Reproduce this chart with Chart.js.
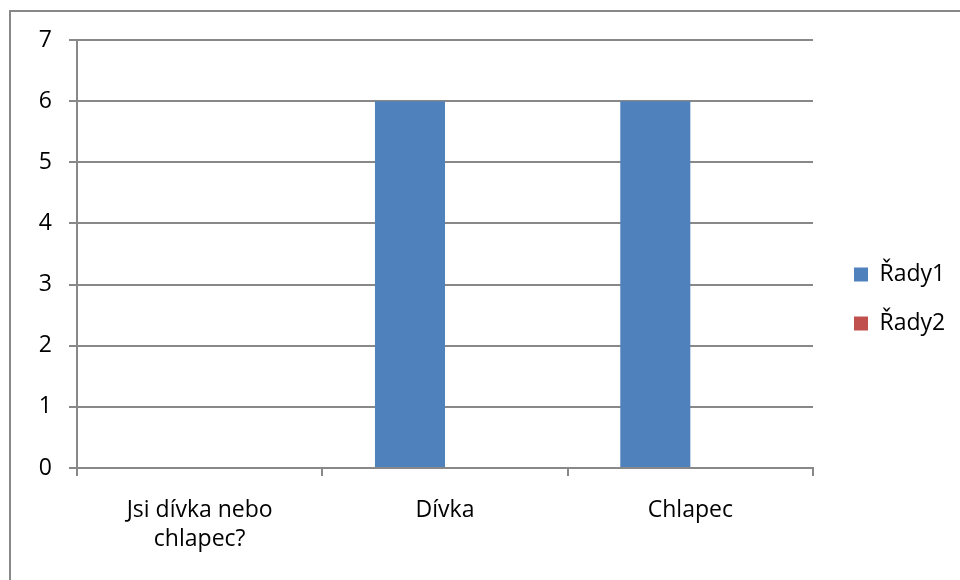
<!DOCTYPE html>
<html>
<head>
<meta charset="utf-8">
<script src="https://cdn.jsdelivr.net/npm/chart.js@4.4.1/dist/chart.umd.min.js"></script>
<style>
  html, body { margin: 0; padding: 0; background: #fff; }
  #wrap { width: 960px; height: 580px; position: relative; }
</style>
</head>
<body>
<div id="wrap"><canvas id="c" width="960" height="580"></canvas></div>
<script>
// ---- data ----
const categories = [["Jsi dívka nebo", "chlapec?"], "Dívka", "Chlapec"];
const seriesNames = ["Řady1", "Řady2"];
const series1 = [null, 6, 6];
const series2 = [null, null, null];
const yTicks = [0, 1, 2, 3, 4, 5, 6, 7];

const GRID = '#888888';
Chart.defaults.font.family = "'Open Sans', 'Noto Sans', sans-serif";
Chart.defaults.font.size = 23;
Chart.defaults.color = '#000';

const frame = {
  id: 'frame',
  beforeDraw(chart) {
    const ctx = chart.ctx;
    ctx.save();
    ctx.fillStyle = '#fff';
    ctx.fillRect(0, 0, chart.width, chart.height);
    ctx.strokeStyle = '#888888';
    ctx.lineWidth = 2;
    ctx.strokeRect(10, 11, chart.width + 20, chart.height + 20);
    ctx.restore();
  }
};

const legendWidth = {
  id: 'legendWidth',
  beforeUpdate(chart) {
    const lg = chart.legend;
    if (lg && !lg._patched) {
      const f = lg.fit;
      lg.fit = function () { f.call(this); this.width = 132; };
      lg._patched = true;
    }
  }
};

new Chart(document.getElementById('c'), {
  type: 'bar',
  data: {
    labels: categories,
    datasets: [
      { label: seriesNames[0], data: series1, backgroundColor: '#4F81BD', borderWidth: 0 },
      { label: seriesNames[1], data: series2, backgroundColor: '#C0504D', borderWidth: 0 }
    ]
  },
  options: {
    responsive: false,
    animation: false,
    layout: { padding: { left: 0, top: 40, right: 0, bottom: 22 } },
    datasets: { bar: { categoryPercentage: 0.571, barPercentage: 1.0 } },
    scales: {
      x: {
        grid: { display: true, offset: true, drawOnChartArea: false, drawTicks: true, tickLength: 8, color: GRID, lineWidth: 2 },
        border: { display: true, color: GRID, width: 2 },
        ticks: { maxRotation: 0, autoSkip: false, padding: 20, font: { size: 23, lineHeight: 1.26 }, color: '#000' },
        afterFit(s) { s.height = 90; }
      },
      y: {
        min: 0, max: 7,
        afterBuildTicks(s) { s.ticks = yTicks.map(v => ({ value: v })); },
        grid: { color: GRID, lineWidth: 2, drawTicks: true, tickLength: 8 },
        border: { display: true, color: GRID, width: 2 },
        ticks: { padding: 17, font: { size: 23 }, color: '#000' },
        afterFit(s) { s.width = 77; }
      },
      y2: {
        type: 'linear',
        position: 'right',
        display: true,
        grid: { display: false, drawTicks: false },
        border: { display: false },
        ticks: { display: false },
        afterFit(s) { s.width = 15; }
      }
    },
    plugins: {
      legend: {
        position: 'right',
        align: 'center',
        labels: { boxWidth: 14, boxHeight: 14, padding: 26, font: { size: 23 }, color: '#000' }
      },
      tooltip: { enabled: false }
    }
  },
  plugins: [frame, legendWidth]
});
</script>
</body>
</html>
